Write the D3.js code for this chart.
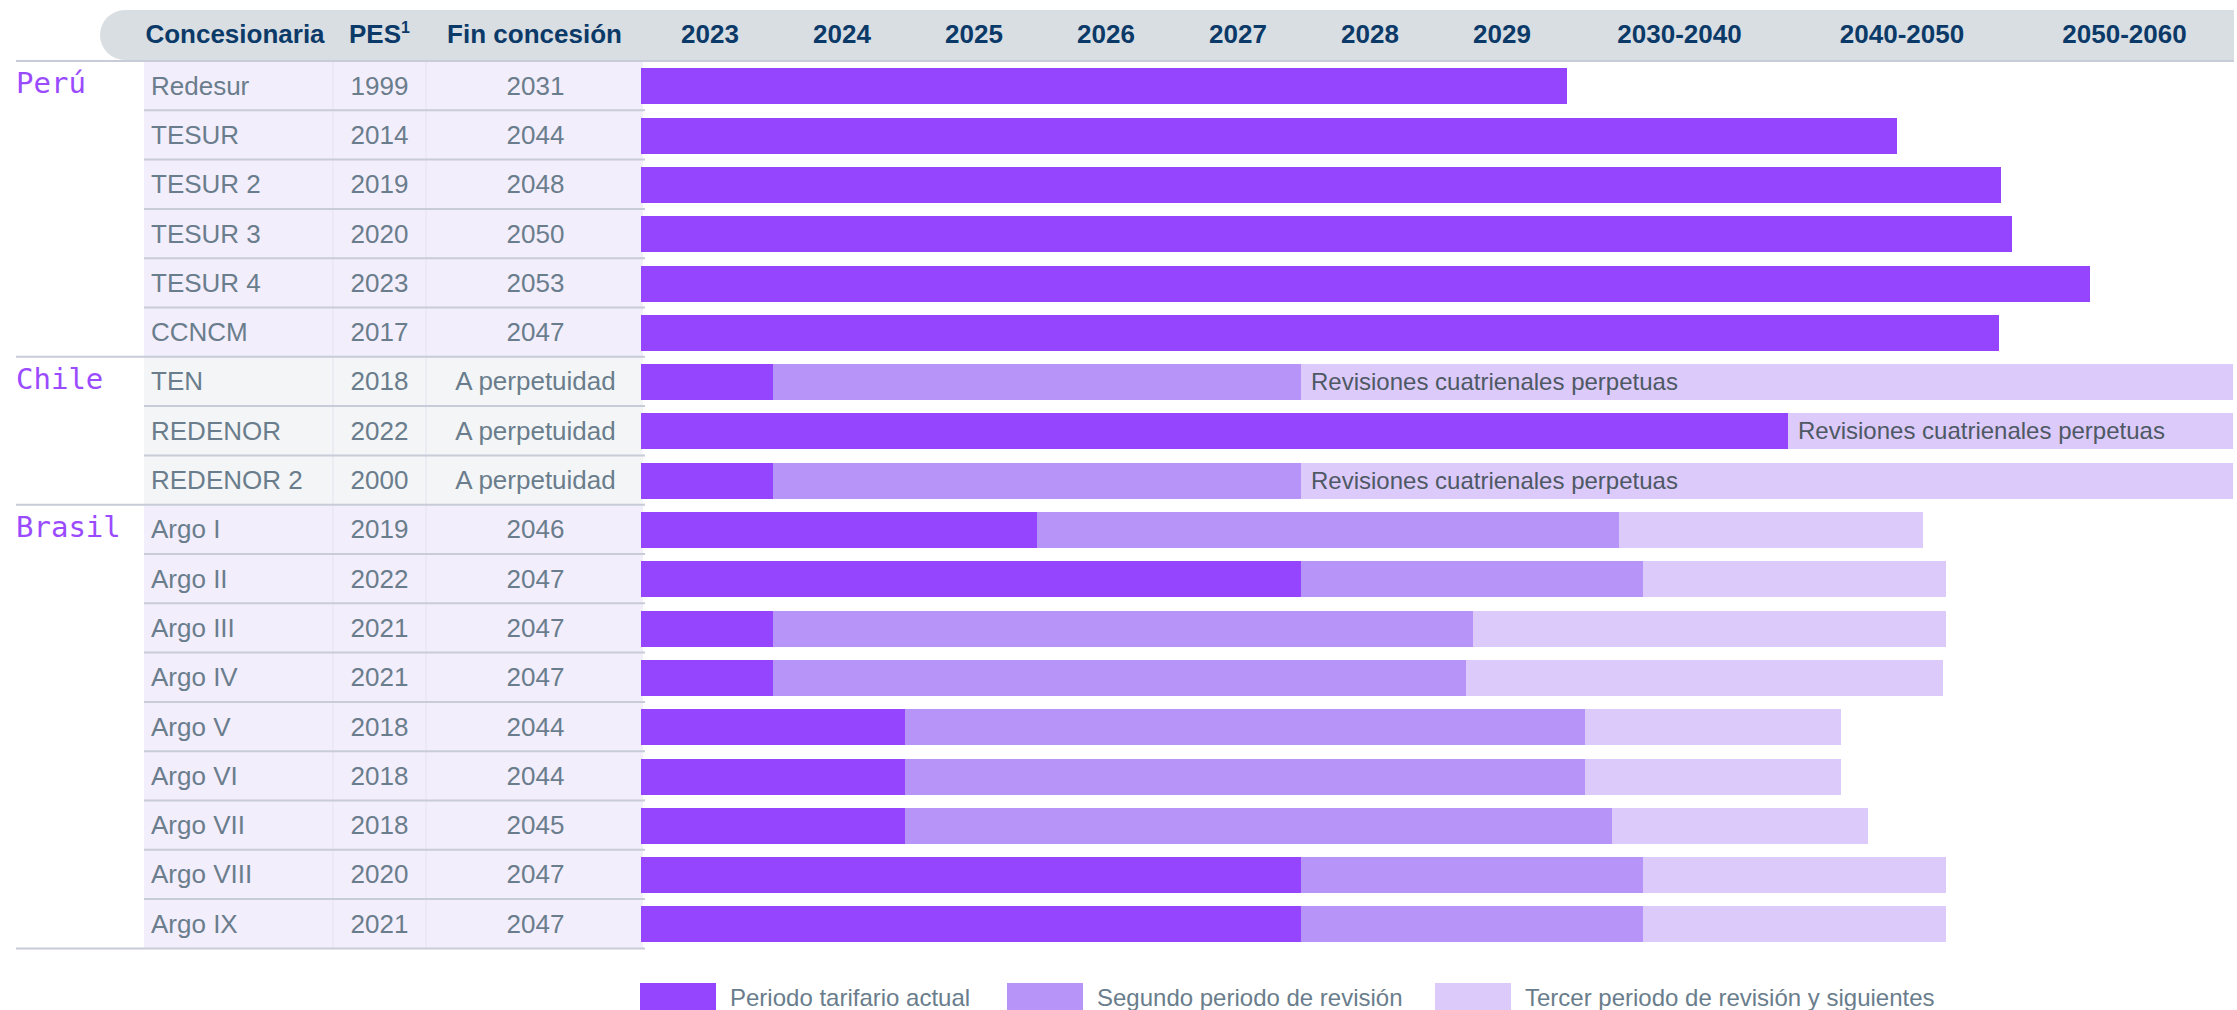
<!DOCTYPE html>
<html>
<head>
<meta charset="utf-8">
<script src="https://cdn.jsdelivr.net/npm/d3@7"></script>
<style>
  html, body { margin: 0; padding: 0; background: #ffffff; }
  svg { display: block; }
</style>
</head>
<body>
<div id="chart"></div>
<script>
// ---------------- DATA ----------------
const countries = ["Perú", "Chile", "Brasil"];
const countryRows = [6, 3, 9];

const concesionarias = [
  "Redesur", "TESUR", "TESUR 2", "TESUR 3", "TESUR 4", "CCNCM",
  "TEN", "REDENOR", "REDENOR 2",
  "Argo I", "Argo II", "Argo III", "Argo IV", "Argo V", "Argo VI", "Argo VII", "Argo VIII", "Argo IX"
];
const pes = [1999, 2014, 2019, 2020, 2023, 2017, 2018, 2022, 2000, 2019, 2022, 2021, 2021, 2018, 2018, 2018, 2020, 2021];
const finConcesion = [
  "2031", "2044", "2048", "2050", "2053", "2047",
  "A perpetuidad", "A perpetuidad", "A perpetuidad",
  "2046", "2047", "2047", "2047", "2044", "2044", "2045", "2047", "2047"
];

// bar ends, read on the timeline axis (years)
const finPeriodoActual = [2030.1, 2044.9, 2049.6, 2050.1, 2053.6, 2049.5,
                          2024, 2040, 2024,
                          2026, 2028, 2024, 2024, 2025, 2025, 2025, 2028, 2028];
const finSegundoPeriodo = [null, null, null, null, null, null,
                           2028, null, 2028,
                           2032.4, 2033.5, 2029.3, 2029.25, 2030.9, 2030.9, 2032.1, 2033.5, 2033.5];
const finTercerPeriodo = [null, null, null, null, null, null,
                          2060, 2060, 2060,
                          2046.1, 2047.1, 2047.1, 2047.0, 2042.4, 2042.4, 2043.6, 2047.1, 2047.1];
const notas = ["", "", "", "", "", "",
               "Revisiones cuatrienales perpetuas", "Revisiones cuatrienales perpetuas", "Revisiones cuatrienales perpetuas",
               "", "", "", "", "", "", "", "", ""];

const tickLabels = ["2023", "2024", "2025", "2026", "2027", "2028", "2029", "2030-2040", "2040-2050", "2050-2060"];
const tickBounds = [2023, 2024, 2025, 2026, 2027, 2028, 2029, 2030, 2040, 2050, 2060];

const tableHeaders = ["Concesionaria", "PES", "Fin concesión"];
const legendLabels = ["Periodo tarifario actual", "Segundo periodo de revisión", "Tercer periodo de revisión y siguientes"];

// ---------------- STYLE ----------------
const W = 2237, H = 1010;
const C_ACTUAL = "#9645ff", C_SEG = "#b795f8", C_TER = "#dccafb";
const periodColors = [C_ACTUAL, C_SEG, C_TER];
const navy = "#0b3a68";
const gray = "#6a7d8c";
const lineColor = "#c8cbd8";
const fontSans = "'Liberation Sans', Arial, Helvetica, sans-serif";

const svg = d3.select("#chart").append("svg")
  .attr("width", W).attr("height", H)
  .attr("viewBox", `0 0 ${W} ${H}`);

// scales
const x = d3.scaleLinear()
  .domain([2023, 2030, 2040, 2050, 2060])
  .range([641, 1565, 1788, 2010, 2233]);

const y = d3.scaleBand()
  .domain(d3.range(concesionarias.length))
  .range([61, 948.4])
  .paddingInner(0).paddingOuter(0);
const step = y.step();
const barPadTop = 7.3, barH = 36;

// country index per row
const rowCountry = [];
countryRows.forEach((n, ci) => { for (let k = 0; k < n; k++) rowCountry.push(ci); });
const groupStart = [];
{ let s = 0; countryRows.forEach(n => { groupStart.push(s); s += n; }); }

// ---------- header band ----------
const hbTop = 10, hbBot = 60, hbLeft = 100, hbRight = 2234, r = 25;
svg.append("path")
  .attr("d", `M${hbLeft + r},${hbTop} L${hbRight},${hbTop} L${hbRight},${hbBot} L${hbLeft + r},${hbBot} A${r},${r} 0 0 1 ${hbLeft},${hbBot - r} A${r},${r} 0 0 1 ${hbLeft + r},${hbTop} Z`)
  .attr("fill", "#d9dee3");

// ---------- table cells ----------
const cellX0 = 144, cellX1 = 643, colDiv = [333, 426];
const cells = svg.append("g");
concesionarias.forEach((name, i) => {
  cells.append("rect")
    .attr("x", cellX0).attr("y", y(i))
    .attr("width", cellX1 - cellX0).attr("height", step)
    .attr("fill", rowCountry[i] === 1 ? "#f4f5f7" : "#f3eefc");
});
colDiv.forEach(cx => {
  cells.append("line")
    .attr("x1", cx).attr("x2", cx)
    .attr("y1", y(0)).attr("y2", y(concesionarias.length - 1) + step)
    .attr("stroke", "#e6e2ef").attr("stroke-width", 1);
});

// ---------- bars ----------
const segs = [];
concesionarias.forEach((name, i) => {
  segs.push({ i, s: 2023, e: finPeriodoActual[i], c: 0 });
  let last = finPeriodoActual[i];
  if (finSegundoPeriodo[i] != null) {
    segs.push({ i, s: last, e: finSegundoPeriodo[i], c: 1 });
    last = finSegundoPeriodo[i];
  }
  if (finTercerPeriodo[i] != null) {
    segs.push({ i, s: last, e: finTercerPeriodo[i], c: 2 });
  }
});
svg.append("g").selectAll("rect").data(segs).join("rect")
  .attr("x", d => x(d.s))
  .attr("y", d => y(d.i) + barPadTop)
  .attr("width", d => x(d.e) - x(d.s))
  .attr("height", barH)
  .attr("fill", d => periodColors[d.c])
  .attr("shape-rendering", "crispEdges");

// notes on perpetual bars
svg.append("g").selectAll("text")
  .data(concesionarias.map((n, i) => i).filter(i => notas[i]))
  .join("text")
  .attr("x", i => x(finSegundoPeriodo[i] != null ? finSegundoPeriodo[i] : finPeriodoActual[i]) + 10)
  .attr("y", i => y(i) + step / 2 + 8.5)
  .attr("font-family", fontSans).attr("font-size", 24)
  .attr("fill", "#4e5964")
  .text(i => notas[i]);

// ---------- row lines ----------
const lines = svg.append("g").attr("stroke", lineColor).attr("stroke-width", 2);
for (let k = 1; k < concesionarias.length; k++) {
  const yy = y(k);
  const isGroup = groupStart.includes(k);
  lines.append("line")
    .attr("x1", isGroup ? 16 : cellX0).attr("x2", 645)
    .attr("y1", yy).attr("y2", yy);
}
// top line under header
lines.append("line").attr("x1", 16).attr("x2", hbRight).attr("y1", 61).attr("y2", 61);
// bottom line
const yBottom = y(concesionarias.length - 1) + step;
lines.append("line").attr("x1", 16).attr("x2", 645).attr("y1", yBottom).attr("y2", yBottom);

// ---------- table text ----------
const tt = svg.append("g").attr("font-family", fontSans).attr("font-size", 26).attr("fill", gray);
concesionarias.forEach((name, i) => {
  const cy = y(i) + step / 2 + 9;
  tt.append("text").attr("x", 151).attr("y", cy).text(name);
  tt.append("text").attr("x", (colDiv[0] + colDiv[1]) / 2).attr("y", cy).attr("text-anchor", "middle").text(pes[i]);
  tt.append("text").attr("x", (colDiv[1] + cellX1) / 2 + 1).attr("y", cy).attr("text-anchor", "middle").text(finConcesion[i]);
});

// country labels
svg.append("g").selectAll("text").data(countries).join("text")
  .attr("x", 16)
  .attr("y", (d, ci) => y(groupStart[ci]) + step / 2 + 7.5)
  .attr("font-family", "'DejaVu Sans Mono', monospace")
  .attr("font-size", 29)
  .attr("fill", "#9a4bff")
  .text(d => d);

// ---------- header text ----------
const ht = svg.append("g").attr("font-family", fontSans).attr("font-size", 26)
  .attr("font-weight", "bold").attr("fill", navy).attr("text-anchor", "middle");
ht.append("text").attr("x", 235).attr("y", 43).text(tableHeaders[0]);
const pesT = ht.append("text").attr("x", 379.5).attr("y", 43).attr("text-anchor", "middle");
pesT.append("tspan").text(tableHeaders[1]);
pesT.append("tspan").attr("font-size", 16).attr("dy", -10).text("1");
ht.append("text").attr("x", 534.5).attr("y", 43).text(tableHeaders[2]);

ht.selectAll("text.tick").data(tickLabels).join("text")
  .attr("class", "tick")
  .attr("x", (d, k) => x((tickBounds[k] + tickBounds[k + 1]) / 2) + 3)
  .attr("y", 43)
  .text(d => d);

// ---------- legend ----------
const legX = [640, 1007, 1435];
const lg = svg.append("g");
legendLabels.forEach((lab, k) => {
  lg.append("rect").attr("x", legX[k]).attr("y", 983).attr("width", 76).attr("height", 36)
    .attr("fill", periodColors[k]);
  lg.append("text").attr("x", legX[k] + 90).attr("y", 1006)
    .attr("font-family", fontSans).attr("font-size", 24).attr("fill", gray)
    .text(lab);
});
</script>
</body>
</html>
